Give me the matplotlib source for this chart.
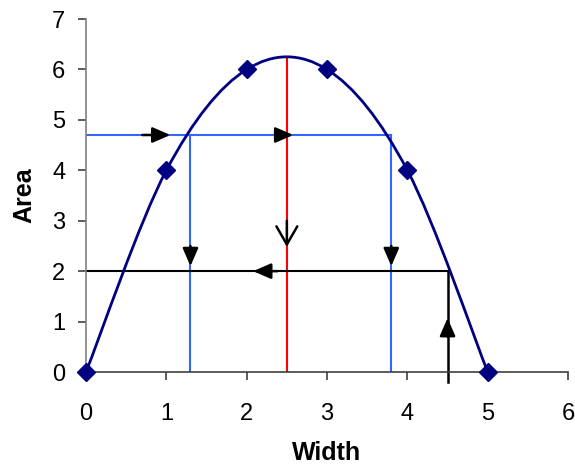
import matplotlib
matplotlib.use("Agg")
import matplotlib.pyplot as plt
from matplotlib.path import Path
from matplotlib.patches import PathPatch
import numpy as np

plt.rcParams['font.family'] = ['Liberation Sans', 'DejaVu Sans']

# data
width = [0, 1, 2, 3, 4, 5]
area = [0, 4, 6, 6, 4, 0]

# guide lines
blue_y = 4.7
blue_x = [1.3, 3.8]
red_x = 2.5
red_top = 6.25
black_y = 2.0
black_x = 4.5

navy = '#000080'
blue = '#3366FF'


def smooth_path(xs, ys):
    # Excel-style smoothed line: cubic Bezier segments through the points
    pts = np.column_stack([xs, ys]).astype(float)
    n = len(pts)
    verts = [pts[0]]
    codes = [Path.MOVETO]
    for i in range(n - 1):
        p0 = pts[i - 1] if i > 0 else pts[i]
        p1 = pts[i]
        p2 = pts[i + 1]
        p3 = pts[i + 2] if i + 2 < n else pts[i + 1]
        c1 = p1 + (p2 - p0) / 6.0
        c2 = p2 - (p3 - p1) / 6.0
        verts += [c1, c2, p2]
        codes += [Path.CURVE4] * 3
    return Path(verts, codes)


fig = plt.figure(figsize=(5.75, 4.66), dpi=100)
ax = fig.add_axes([0.1496, 0.2017, 0.8383, 0.7575])

# guide lines
ax.plot([0, blue_x[1]], [blue_y, blue_y], color=blue, lw=1.5)
for bx in blue_x:
    ax.plot([bx, bx], [0, blue_y], color=blue, lw=1.5)
ax.plot([red_x, red_x], [0, red_top], color='red', lw=1.5)
ax.plot([0, black_x], [black_y, black_y], color='black', lw=1.5)
ax.plot([black_x, black_x], [-0.2, black_y], color='black', lw=1.8, clip_on=False)

# curve and markers
ax.add_patch(PathPatch(smooth_path(width, area), facecolor='none',
                       edgecolor=navy, lw=2, zorder=3))
ax.plot(width, area, linestyle='none', marker='D', markersize=9,
        color=navy, clip_on=False, zorder=4)

# arrows
filled = dict(arrowstyle='-|>,head_length=1.08,head_width=0.47',
              color='black', lw=1.8, shrinkA=0, shrinkB=0)
ax.annotate('', xy=(1.05, blue_y), xytext=(0.7, blue_y), arrowprops=filled)
ax.annotate('', xy=(2.58, blue_y), xytext=(2.38, blue_y), arrowprops=filled)
for bx in blue_x:
    ax.annotate('', xy=(bx, 2.1), xytext=(bx, 2.5), arrowprops=filled)
ax.annotate('', xy=(2.08, black_y), xytext=(2.38, black_y), arrowprops=filled)
ax.annotate('', xy=(black_x, 1.07), xytext=(black_x, 0.7), arrowprops=filled)
ax.annotate('', xy=(red_x, 2.48), xytext=(red_x, 3.0),
            arrowprops=dict(arrowstyle='->,head_length=1.3,head_width=0.75',
                            color='black', lw=1.8, shrinkA=0, shrinkB=0))

ax.set_xlim(0, 6)
ax.set_ylim(0, 7)
ax.set_xticks(range(7))
ax.set_yticks(range(8))
for s in ['top', 'right']:
    ax.spines[s].set_visible(False)
ax.spines['left'].set_color('#808080')
ax.spines['bottom'].set_color('#404040')
for s in ['left', 'bottom']:
    ax.spines[s].set_linewidth(1.2)
ax.tick_params(direction='out', length=5.5, width=1.2, color='#404040',
               labelsize=17)
ax.tick_params(axis='x', pad=17)
ax.tick_params(axis='y', pad=9.5)
ax.set_xlabel('Width', fontsize=18, fontweight='bold', labelpad=11)
ax.set_ylabel('Area', fontsize=18, fontweight='bold', labelpad=11)

fig.savefig('out.png', dpi=100)
